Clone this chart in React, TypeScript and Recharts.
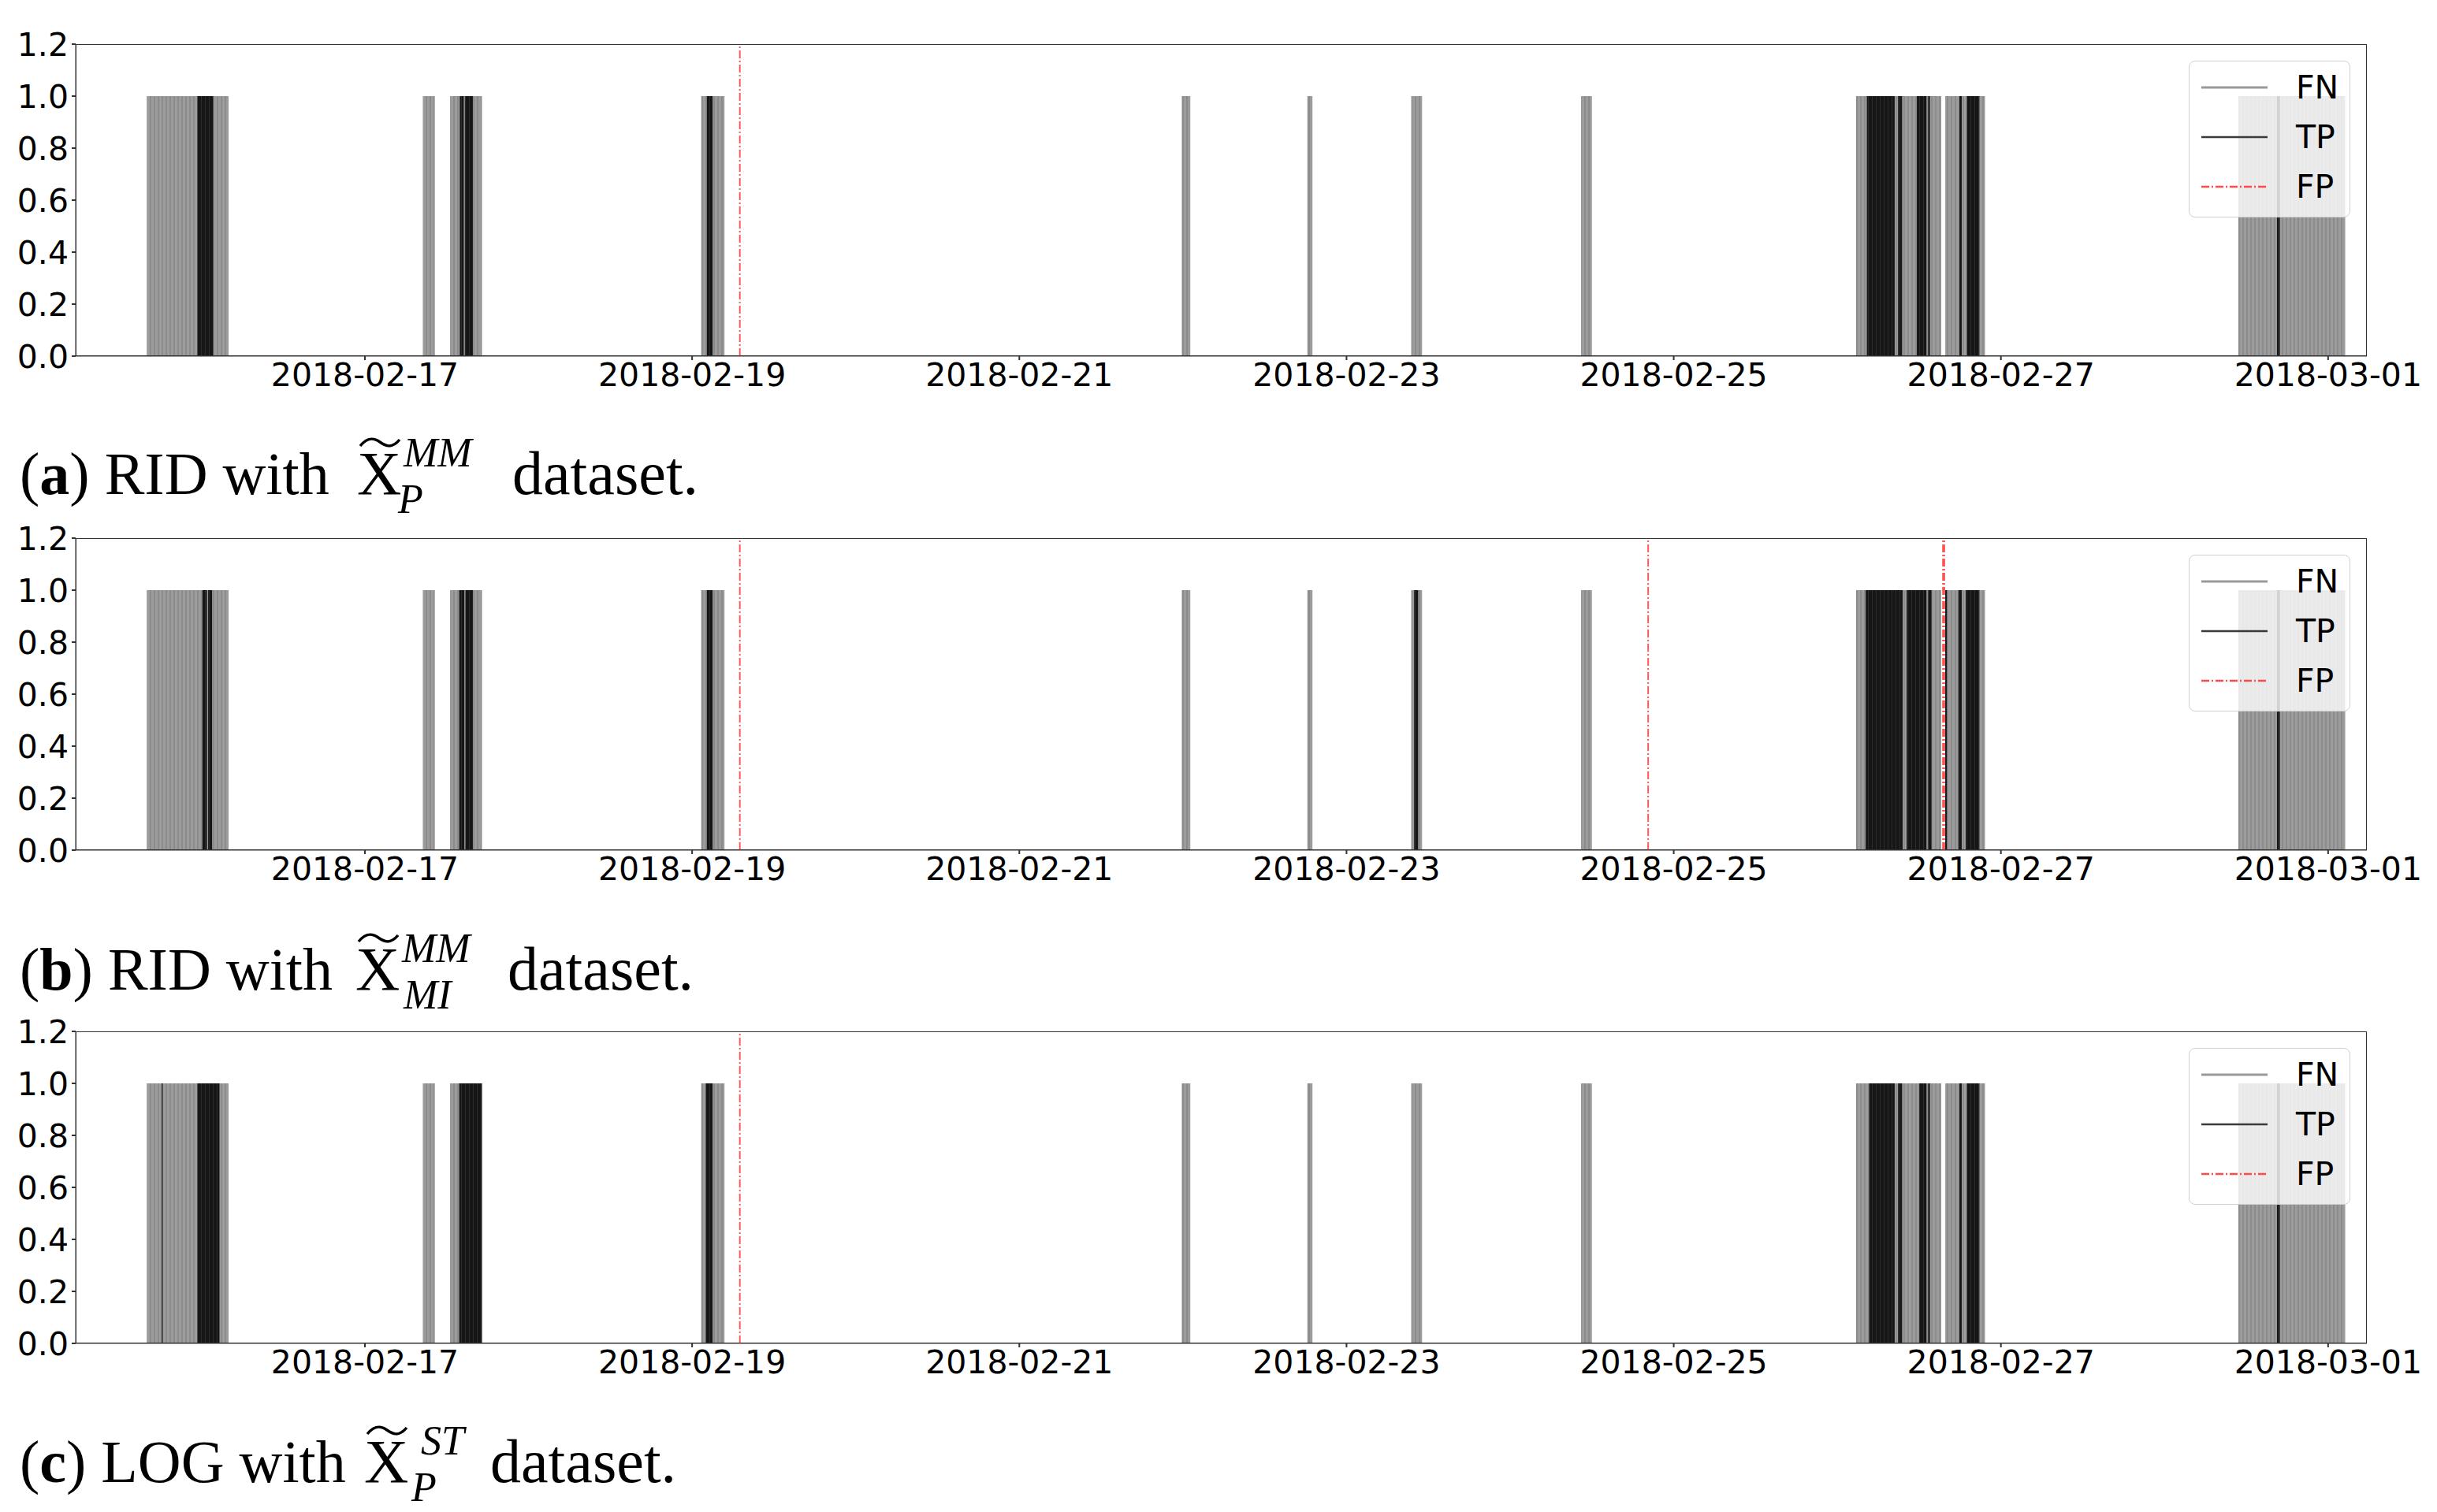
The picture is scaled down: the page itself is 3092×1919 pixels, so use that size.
import React from 'react'
import { ComposedChart, XAxis, YAxis, ReferenceArea, ReferenceLine, Legend } from 'recharts'

// all times are UTC in 2018, written 'MM-DD HH:MM'
const X_START = '02-15 05:34'
const X_END = '03-01 05:41'
const X_TICKS = ['2018-02-17', '2018-02-19', '2018-02-21', '2018-02-23', '2018-02-25', '2018-02-27', '2018-03-01']
const Y_TICKS = [0, 0.2, 0.4, 0.6, 0.8, 1.0, 1.2]
const FLAG = 1

// labelled anomaly windows, grey (FN) unless detected; TP is painted on top
const FN_RANGES = [
  ['02-15 16:00', '02-16 04:00'],
  ['02-17 08:30', '02-17 10:15'],
  ['02-17 12:30', '02-17 17:10'],
  ['02-19 01:20', '02-19 04:45'],
  ['02-21 23:50', '02-22 01:05'],
  ['02-22 18:15', '02-22 19:00'],
  ['02-23 09:30', '02-23 11:05'],
  ['02-24 10:25', '02-24 12:00'],
  ['02-26 02:45', '02-26 15:15'],
  ['02-26 15:50', '02-26 21:40'],
  ['02-28 10:50', '03-01 02:30'],
]

const TP_A = [
  ['02-15 23:25', '02-16 01:45'],
  ['02-17 13:55', '02-17 14:30'],
  ['02-17 14:40', '02-17 15:50'],
  ['02-19 02:10', '02-19 03:00'],
  ['02-26 04:20', '02-26 08:25'],
  ['02-26 08:55', '02-26 09:30'],
  ['02-26 11:40', '02-26 13:05'],
  ['02-26 13:20', '02-26 13:35'],
  ['02-26 17:55', '02-26 18:15'],
  ['02-26 19:00', '02-26 20:50'],
  ['02-28 16:30', '02-28 16:55'],
]
const TP_B = [
  ['02-16 00:10', '02-16 00:50'],
  ['02-16 01:00', '02-16 01:35'],
  ['02-17 13:50', '02-17 14:35'],
  ['02-17 14:45', '02-17 15:50'],
  ['02-19 02:10', '02-19 03:00'],
  ['02-23 09:55', '02-23 10:30'],
  ['02-26 04:10', '02-26 09:35'],
  ['02-26 10:10', '02-26 13:05'],
  ['02-26 13:20', '02-26 13:50'],
  ['02-26 15:50', '02-26 16:05'],
  ['02-26 17:45', '02-26 18:15'],
  ['02-26 18:50', '02-26 20:50'],
  ['02-28 16:30', '02-28 16:55'],
]
const TP_C = [
  ['02-15 18:10', '02-15 18:20'],
  ['02-15 23:25', '02-16 02:40'],
  ['02-17 13:50', '02-17 17:10'],
  ['02-19 02:00', '02-19 03:00'],
  ['02-26 04:40', '02-26 08:25'],
  ['02-26 08:55', '02-26 09:30'],
  ['02-26 12:00', '02-26 13:05'],
  ['02-26 13:20', '02-26 13:35'],
  ['02-26 17:55', '02-26 18:15'],
  ['02-26 19:00', '02-26 20:50'],
  ['02-28 16:30', '02-28 16:55'],
]

const FP_A = ['02-19 07:00']
const FP_B = ['02-19 07:00', '02-24 20:15', '02-26 15:30', '02-26 15:42']
const FP_C = ['02-19 07:00']

const CAPTIONS = [
  { tag: 'a', head: 'RID', sup: 'MM', sub: 'P' },
  { tag: 'b', head: 'RID', sup: 'MM', sub: 'MI' },
  { tag: 'c', head: 'LOG', sup: 'ST', sub: 'P' },
]

// page layout (pixels)
const W = 3092
const H = 1919
const PANEL_TOPS = [0, 627, 1253]
const CAPTION_POS = [
  { y: 627, xX: 453, xSup: 512, xSub: 505, xTail: 650 },
  { y: 1256, xX: 451, xSup: 510, xSub: 512, xTail: 644 },
  { y: 1881, xX: 462, xSup: 534, xSub: 522, xTail: 622 },
]

const t = (s: string) => Date.parse(`2018-${s.slice(0, 5)}T${s.slice(6)}:00Z`)
const day = (d: string) => Date.parse(`${d}T00:00:00Z`)
const TICK_FONT = { fontSize: 41, fill: '#000', fontFamily: 'DejaVu Sans' }

function LegendBox() {
  const rows = [
    { label: 'FN', color: '#9a9a9a', width: 3, dash: undefined },
    { label: 'TP', color: '#3a3a3a', width: 2.5, dash: undefined },
    { label: 'FP', color: '#ff4a4a', width: 2.5, dash: '10 3 2 3' },
  ]
  return (
    <div style={{
      position: 'relative', width: 205, height: 199, boxSizing: 'border-box',
      background: 'rgba(255,255,255,0.8)', border: '1.5px solid #d0d0d0', borderRadius: 8,
    }}>
      {rows.map((r, i) => (
        <div key={r.label} style={{ position: 'absolute', left: 0, top: 33 + i * 63 - 25, height: 50, width: 205 }}>
          <svg width={100} height={50} style={{ position: 'absolute', left: 15, top: 0 }}>
            <line x1={0} x2={84} y1={25} y2={25} stroke={r.color} strokeWidth={r.width} strokeDasharray={r.dash} />
          </svg>
          <span style={{
            position: 'absolute', left: 135, top: 0, lineHeight: '50px',
            fontSize: 41, fontFamily: 'DejaVu Sans', color: '#000',
          }}>{r.label}</span>
        </div>
      ))}
    </div>
  )
}

function Panel({ id, tp, fp, top }: { id: string; tp: string[][]; fp: string[]; top: number }) {
  return (
    <div style={{ position: 'absolute', left: 0, top }}>
      <ComposedChart width={W} height={512} margin={{ top: 56, right: 89, bottom: 0, left: 0 }}>
        <defs>
          <pattern id={`fn-${id}`} patternUnits="userSpaceOnUse" width={5} height={10}>
            <rect width={5} height={10} fill="#9c9c9c" />
            <rect width={2} height={10} fill="#8b8b8b" />
          </pattern>
          <pattern id={`tp-${id}`} patternUnits="userSpaceOnUse" width={5} height={10}>
            <rect width={5} height={10} fill="#161616" />
            <rect width={1} height={10} fill="#2c2c2c" />
          </pattern>
        </defs>
        <XAxis
          type="number"
          dataKey="t"
          domain={[t(X_START), t(X_END)]}
          allowDataOverflow
          ticks={X_TICKS.map(day)}
          tickFormatter={(v: number) => new Date(v).toISOString().slice(0, 10)}
          height={60}
          tick={TICK_FONT}
          tickSize={5}
          tickMargin={4}
          stroke="#333"
          tickLine={{ stroke: '#333', strokeWidth: 2 }}
          interval={0}
        />
        <YAxis
          type="number"
          domain={[0, 1.2]}
          allowDataOverflow
          ticks={Y_TICKS}
          tickFormatter={(v: number) => v.toFixed(1)}
          width={96}
          tick={TICK_FONT}
          tickSize={5}
          tickMargin={4}
          stroke="#333"
          tickLine={{ stroke: '#333', strokeWidth: 2 }}
          interval={0}
        />
        {FN_RANGES.map(([a, b]) => (
          <ReferenceArea key={`fn${a}`} x1={t(a)} x2={t(b)} y1={0} y2={FLAG}
            fill={`url(#fn-${id})`} fillOpacity={1} stroke="none" ifOverflow="hidden" />
        ))}
        {tp.map(([a, b]) => (
          <ReferenceArea key={`tp${a}`} x1={t(a)} x2={t(b)} y1={0} y2={FLAG}
            fill={`url(#tp-${id})`} fillOpacity={1} stroke="none" ifOverflow="hidden" />
        ))}
        {fp.map(s => (
          <ReferenceLine key={`fp${s}`} x={t(s)} stroke="#ff3b3b" strokeOpacity={0.85}
            strokeWidth={2} strokeDasharray="10 3 2 3" ifOverflow="hidden" />
        ))}
        <ReferenceArea y1={0} y2={1.2} fill="none" stroke="#333" strokeWidth={2} ifOverflow="hidden" />
        <Legend
          layout="vertical"
          align="center"
          verticalAlign="middle"
          wrapperStyle={{ top: 77, left: 2777, width: 205, height: 199 }}
          content={() => <LegendBox />}
        />
      </ComposedChart>
    </div>
  )
}

function Captions() {
  return (
    <svg width={W} height={H} style={{ position: 'absolute', left: 0, top: 0, pointerEvents: 'none' }}>
      {CAPTIONS.map((c, i) => {
        const p = CAPTION_POS[i]
        const ty = p.y - 67
        return (
          <g key={c.tag} fontFamily="Liberation Serif" fill="#000">
            <text x={25} y={p.y} fontSize={76}>
              (<tspan fontWeight="bold">{c.tag}</tspan>) {c.head} with
            </text>
            <text x={p.xX} y={p.y} fontSize={78}>X</text>
            <path
              d={`M ${p.xX + 4} ${ty + 6} C ${p.xX + 14} ${ty - 6}, ${p.xX + 22} ${ty - 4}, ${p.xX + 29} ${ty + 1} S ${p.xX + 44} ${ty + 10}, ${p.xX + 54} ${ty - 2}`}
              fill="none" stroke="#000" strokeWidth={3.5}
            />
            <text x={p.xSup} y={p.y - 35} fontSize={52} fontStyle="italic">{c.sup}</text>
            <text x={p.xSub} y={p.y + 24} fontSize={52} fontStyle="italic">{c.sub}</text>
            <text x={p.xTail} y={p.y} fontSize={78}>dataset.</text>
          </g>
        )
      })}
    </svg>
  )
}

export default function App() {
  const panels = [
    { id: 'a', tp: TP_A, fp: FP_A },
    { id: 'b', tp: TP_B, fp: FP_B },
    { id: 'c', tp: TP_C, fp: FP_C },
  ]
  return (
    <div style={{ position: 'absolute', left: 0, top: 0, width: W, height: H, background: '#fff', overflow: 'hidden' }}>
      {panels.map((p, i) => (
        <Panel key={p.id} id={p.id} tp={p.tp} fp={p.fp} top={PANEL_TOPS[i]} />
      ))}
      <Captions />
    </div>
  )
}
